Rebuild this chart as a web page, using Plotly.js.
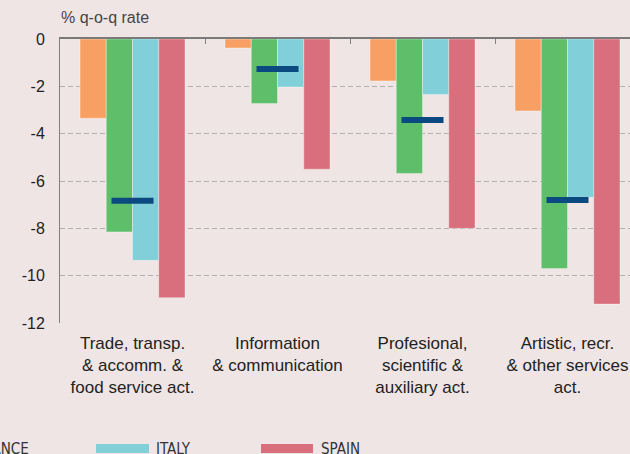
<!DOCTYPE html>
<html>
<head>
<meta charset="utf-8">
<script src="https://cdn.plot.ly/plotly-3.0.1.min.js"></script>
<style>
  html, body { margin: 0; padding: 0; overflow: hidden; background: #f0e5e5; width: 630px; height: 454px; }
  #chart { position: absolute; left: -100px; top: 0; width: 760px; height: 454px; }
</style>
</head>
<body>
<div id="chart"></div>
<script>
// ---- data ----
const categories = [
  'Trade, transp.<br>& accomm. &<br>food service act.',
  'Information<br>& communication',
  'Profesional,<br>scientific &<br>auxiliary act.',
  'Artistic, recr.<br>& other services<br>act.'
];
const germany  = [-3.35, -0.38, -1.77, -3.04];
const france   = [-8.15, -2.73, -5.68, -9.70];
const italy    = [-9.35, -2.03, -2.34, -6.69];
const spain    = [-10.93, -5.50, -8.00, -11.20];
const euroArea = [-6.83, -1.27, -3.42, -6.80];
const yTickVals = [0, -2, -4, -6, -8, -10, -12];
const yTickText = ['0', '-2', '-4', '-6', '-8', '-10', '-12'];
const legendNames = ['FRANCE', 'ITALY', 'SPAIN'];

// ---- styles ----
const C = { germany: '#f8a064', france: '#5fbe6a', italy: '#81cfd9', spain: '#d96e7c', ea: '#0b4a80' };
const FONT = 'Liberation Sans, Arial, Helvetica, sans-serif';
const NARROW = 'Liberation Sans Narrow, DejaVu Sans Condensed, Liberation Sans, sans-serif';
const BG = '#f0e5e5';
const edge = { width: 1, color: 'rgba(255,255,255,0.35)' };

const bar = (y, color, name) => ({
  type: 'bar', x: categories, y: y, name: name,
  marker: { color: color, line: edge }, hoverinfo: 'none'
});

const idx = categories.map((c, i) => i);
const traces = [
  bar(germany, C.germany, 'GERMANY'),
  bar(france, C.france, 'FRANCE'),
  bar(italy, C.italy, 'ITALY'),
  bar(spain, C.spain, 'SPAIN'),
  { type: 'scatter', mode: 'markers', x: idx, y: euroArea, xaxis: 'x2', yaxis: 'y', name: 'EURO AREA',
    marker: { symbol: 'line-ew', size: 30, color: C.ea, line: { width: 6, color: C.ea } }, hoverinfo: 'none' }
];

// pixel helpers (page coords -> paper coords)
const OFF = 100, ML = 160, PW = 580, PT = 39, PH = 284;
const px = x => (x + OFF - ML) / PW;
const py = y => (PT + PH - y) / PH;

const legendSw = [[-84, -32], [96, 149], [261, 313]];
const legendTx = [-27, 154, 319];
const legendCol = [C.france, C.italy, C.spain];

const shapes = legendSw.map((s, i) => ({
  type: 'rect', xref: 'paper', yref: 'paper',
  x0: px(s[0]), x1: px(s[1]), y0: py(444), y1: py(453),
  fillcolor: legendCol[i], line: { width: 0 }
}));
const annotations = legendNames.map((n, i) => ({
  xref: 'paper', yref: 'paper', x: px(legendTx[i]), y: py(449),
  xanchor: 'left', yanchor: 'middle', showarrow: false, text: n,
  font: { family: NARROW, size: 15, color: '#333' }
}));
annotations.push({
  xref: 'paper', yref: 'paper', x: px(59), y: py(17),
  xanchor: 'left', yanchor: 'middle', showarrow: false, text: '% q-o-q rate',
  font: { family: FONT, size: 16, color: '#444' }
});

const layout = {
  width: 760, height: 454,
  margin: { l: ML, r: 760 - ML - PW, t: PT, b: 454 - PT - PH },
  paper_bgcolor: BG, plot_bgcolor: BG,
  showlegend: false,
  barmode: 'group', bargap: 0.276, bargroupgap: 0,
  font: { family: FONT, color: '#222' },
  xaxis: {
    type: 'category', range: [-0.5, 3.5], showline: false, ticks: '',
    showgrid: false, zeroline: false, ticklabelstandoff: 8,
    tickfont: { family: FONT, size: 17, color: '#222' }
  },
  xaxis2: {
    overlaying: 'x', side: 'top', type: 'linear', range: [-0.5, 3.5],
    tickvals: [0.5, 1.5, 2.5, 3.5], ticks: 'inside', ticklen: 5, tickcolor: '#808080', tickwidth: 1,
    showticklabels: false, showline: true, linewidth: 2, linecolor: '#7a7a7a',
    showgrid: false, zeroline: false
  },
  yaxis: {
    range: [-12, 0], tickvals: yTickVals, ticktext: yTickText,
    showgrid: true, gridcolor: '#b0b0b0', griddash: '5px,3px', gridwidth: 1,
    zeroline: false, showline: true, linecolor: '#808080', linewidth: 1,
    ticks: '', ticklabelstandoff: 11,
    tickfont: { family: FONT, size: 16, color: '#222' }
  },
  shapes: shapes,
  annotations: annotations
};

Plotly.newPlot('chart', traces, layout, { displayModeBar: false, staticPlot: true });
</script>
</body>
</html>
